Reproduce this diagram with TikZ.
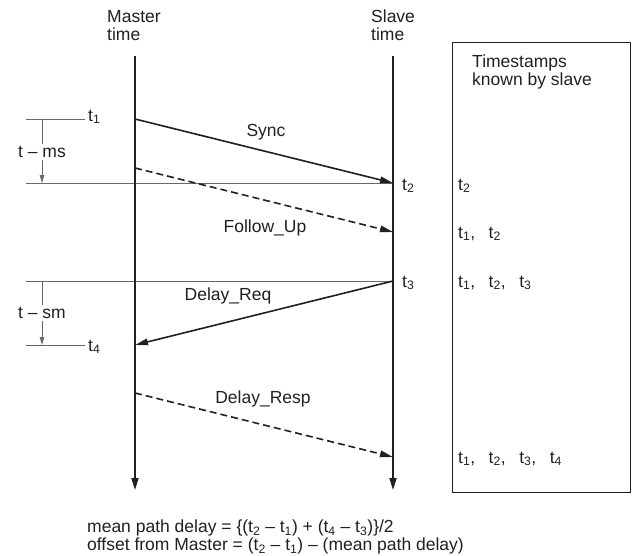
\documentclass[tikz,border=0pt]{standalone}
\usepackage{fontspec}
\setmainfont{Liberation Sans}
\usetikzlibrary{arrows.meta,positioning,calc}
\definecolor{inkblack}{RGB}{35,31,32}
\definecolor{guidegray}{RGB}{105,105,105}
\newcommand{\tsub}[1]{t\textsubscript{#1}}
\tikzset{
  timeline/.style={line width=1.7pt, draw=inkblack, -{Triangle[length=12pt,width=7pt]}},
  msg/.style={line width=1.6pt, draw=inkblack, -{Triangle[length=13pt,width=6.5pt]}},
  msgdash/.style={msg, dash pattern=on 7pt off 4pt},
  guide/.style={line width=0.9pt, draw=guidegray},
  tick/.style={guide, -{Triangle[length=8pt,width=4.5pt]}},
  lbl/.style={font=\fontsize{17.5}{18}\selectfont, text=inkblack, inner sep=1pt},
}
\begin{document}
\begin{tikzpicture}[x=1pt,y=-1pt]
\useasboundingbox (0,0) rectangle (634,555);

% headings
\node[lbl, align=left, anchor=north west] (mhead) at (106,9) {Master\\time};
\node[lbl, align=left, anchor=north west] (shead) at (370,9) {Slave\\time};

% events on the two time axes
\coordinate (mtop) at (135,56);  \coordinate (mbot) at (135,490);
\coordinate (stop) at (393,56);  \coordinate (sbot) at (393,490);
\coordinate (m1) at (135,119);   \coordinate (s2) at (393,183);
\coordinate (mf) at (135,168);   \coordinate (sf) at (393,232);
\coordinate (s3) at (393,281);   \coordinate (m4) at (135,345);
\coordinate (mr) at (135,393);   \coordinate (sr) at (393,457);

% guide lines
\coordinate (g1) at (26,119);  \coordinate (g1e) at (85,119);
\coordinate (g2) at (26,183);
\coordinate (g3) at (26,281);
\coordinate (g4) at (26,345);  \coordinate (g4e) at (85,345);
\draw[guide] (g1) -- (g1e);
\draw[guide] (g2) -- (s2);
\draw[guide] (g3) -- (s3);
\draw[guide] (g4) -- (g4e);
\draw[tick] (42,119) -- (42,183);
\draw[tick] (42,281) -- (42,345);
\node[lbl, fill=white, inner sep=2pt] (tms) at (42,152) {t -- ms};
\node[lbl, fill=white, inner sep=2pt] (tsm) at (42,313) {t -- sm};
\node[lbl, anchor=west] (t1) at ($(g1e)+(2,-2)$) {\tsub{1}};
\node[lbl, anchor=west] (t4) at ($(g4e)+(2,2)$) {\tsub{4}};

\draw[timeline] (mtop) -- (mbot);
\draw[timeline] (stop) -- (sbot);

% messages
\draw[msg] (m1) -- (s2);
\draw[msgdash] (mf) -- (sf);
\draw[msg] (s3) -- (m4);
\draw[msgdash] (mr) -- (sr);
\node[lbl] (sync) at (266,132) {Sync};
\node[lbl] (fup) at (265,228) {Follow\_Up};
\node[lbl] (dreq) at (228,296) {Delay\_Req};
\node[lbl] (dresp) at (263,399) {Delay\_Resp};
\node[lbl, anchor=west] (t2) at ($(s2)+(8,3)$) {\tsub{2}};
\node[lbl, anchor=west] (t3) at ($(s3)+(8,2)$) {\tsub{3}};

% timestamps known by slave
\draw[line width=0.8pt, draw=inkblack] (452,42) rectangle (630,492);
\node[lbl, align=left, anchor=north west] (known) at (471,54) {Timestamps\\known by slave};
\node[lbl, anchor=west] (k1) at (457,186) {\tsub{2}};
\node[lbl, anchor=west] (k2) at (457,234) {\tsub{1},\hspace{13.5pt}\tsub{2}};
\node[lbl, anchor=west] (k3) at (457,283) {\tsub{1},\hspace{13.5pt}\tsub{2},\hspace{13.5pt}\tsub{3}};
\node[lbl, anchor=west] (k4) at (457,459) {\tsub{1},\hspace{13.5pt}\tsub{2},\hspace{13.5pt}\tsub{3},\hspace{13.5pt}\tsub{4}};

% formulas
\node[lbl, align=left, anchor=north west] (eqs) at (86,519)
  {mean path delay = \{(\tsub{2} -- \tsub{1}) + (\tsub{4} -- \tsub{3})\}/2\\
   offset from Master = (\tsub{2} -- \tsub{1}) -- (mean path delay)};
\end{tikzpicture}
\end{document}
